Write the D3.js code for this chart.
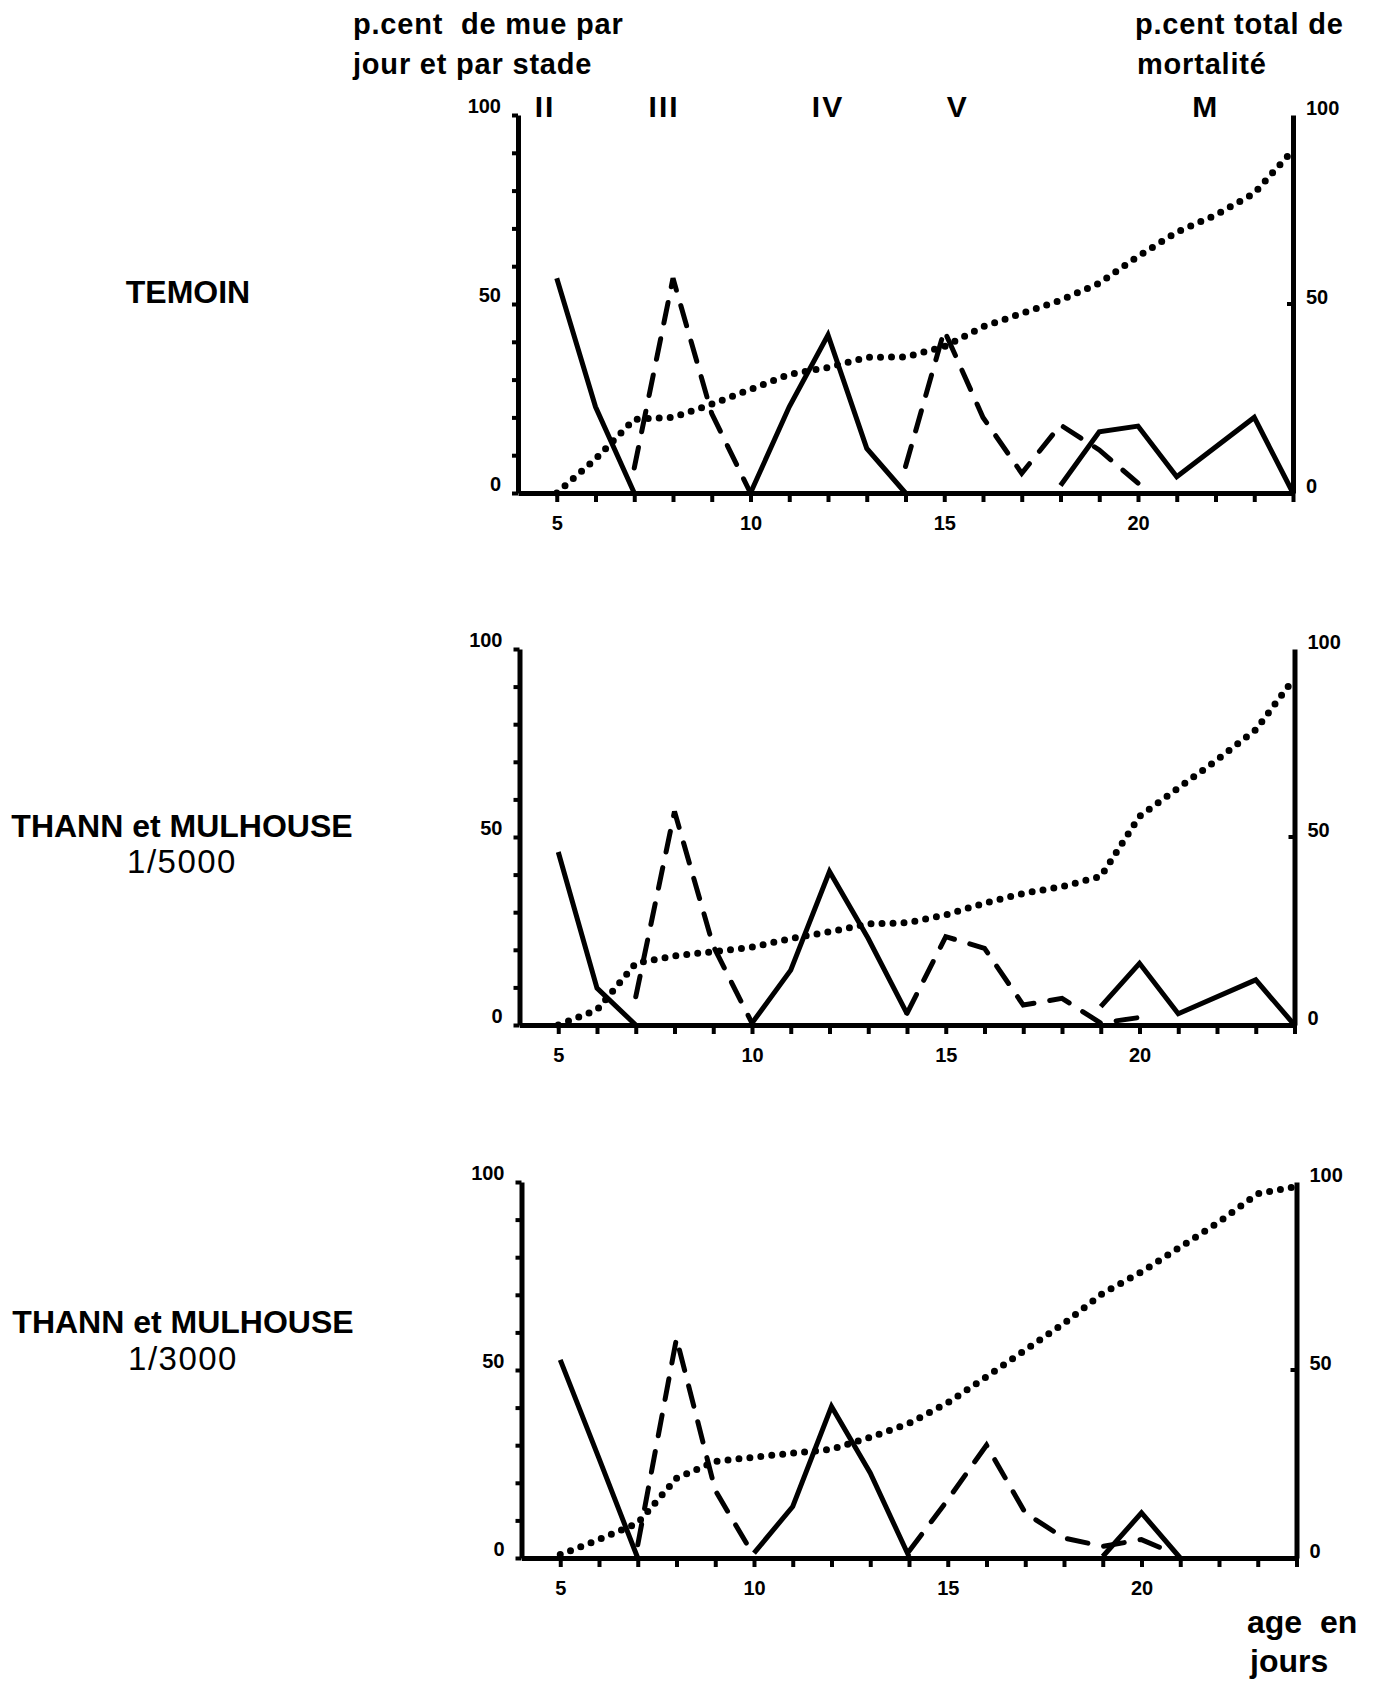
<!DOCTYPE html>
<html>
<head>
<meta charset="utf-8">
<script src="https://cdn.jsdelivr.net/npm/d3@7"></script>
<style>
  body { margin: 0; background: #fff; }
  svg text { white-space: pre; }
</style>
</head>
<body>
<div id="chart"></div>
<script>

// ---- data ----
// days for the cumulative mortality (dotted, right axis)
var mortDays = [5, 6, 7, 8, 9, 10, 11, 12, 13, 14, 15, 16, 17, 18, 19, 20, 21, 22, 23, 24];
var mortTemoin = [0, 9, 19.5, 20, 23.5, 27.4, 31.4, 33.2, 35.9, 36, 38.7, 44, 47.5, 51, 55.5, 62.6, 69, 73.5, 79.3, 90.7];
var mort5000 = [0, 4, 16.4, 18.4, 19.5, 20.7, 23, 24.8, 26.9, 27.2, 29.3, 32.4, 35, 36.8, 39.5, 55.5, 63, 70.5, 78.5, 92.3];
var mort3000 = [0.9, 4.9, 9.3, 21.2, 25.7, 26.8, 27.9, 28.9, 32.1, 35.8, 41.3, 48.2, 55.3, 62.4, 70.4, 76.1, 82.7, 89.4, 96.9, 98.8];

// moult per day and per stage (left axis), [day, percent]
var temoinII  = [[5, 56.8], [6, 22.8], [7, 0]];
var temoinIII = [[7, 6.6], [8, 56.8], [9, 21], [10, 0]];
var temoinIV  = [[10, 0], [11, 22.8], [12, 41.8], [13, 11.8], [14, 0]];
var temoinV   = [[14, 7], [15, 43], [16, 20], [17, 5.2], [18, 18], [19, 11.4], [20, 2.6]];
var temoinM   = [[18, 2], [19, 16.2], [20, 17.7], [21, 4.3], [23, 20], [24, 0]];

var t5000II  = [[5, 46], [6, 9.8], [7, 0]];
var t5000III = [[7, 7.5], [8, 56.8], [9, 21], [10, 0.5]];
var t5000IV  = [[10, 0.5], [11, 14.6], [12, 40.8], [13, 23], [14, 3]];
var t5000V   = [[14, 3.1], [15, 23.5], [16, 20.4], [17, 5.3], [18, 7.1], [19, 0.5], [20, 2]];
var t5000M   = [[19, 4.9], [20, 16.4], [21, 3], [23, 12], [24, 0]];

var t3000II  = [[5, 52.7], [6, 26.5], [7, 0]];
var t3000III = [[7, 3.5], [8, 58.4], [9, 18], [10, 0.5]];
var t3000IV  = [[10, 1.3], [11, 13.7], [12, 40.3], [13, 22.6], [14, 0.4]];
var t3000V   = [[14, 1.8], [15, 15.5], [16, 30], [17, 12], [18, 5.3], [19, 3.1], [20, 4.9], [20.5, 2.7]];
var t3000M   = [[19, 0.4], [20, 12], [21, 0]];

// stage names written above the first graph, and the day they sit over
var stageNames = ["II", "III", "IV", "V", "M"];
var stageDays = [4.7, 7.77, 12.0, 15.35, 21.75];

var xTicks = [5, 10, 15, 20];
var yTicks = [0, 50, 100];

// ---- layout ----
var width = 1379, height = 1686;
var font = "'Liberation Sans', Arial, Helvetica, sans-serif";

var panels = [
  { top: 115, bottom: 493, dx: 0, mort: mortTemoin,
    solid: [temoinII, temoinIV, temoinM], dashed: [temoinIII, temoinV],
    title: ["TEMOIN"], titleX: 188, titleY: [303] },
  { top: 649, bottom: 1025, dx: 1.5, mort: mort5000,
    solid: [t5000II, t5000IV, t5000M], dashed: [t5000III, t5000V],
    title: ["THANN et MULHOUSE", "1/5000"], titleX: 182, titleY: [837, 873] },
  { top: 1182, bottom: 1558, dx: 3.5, mort: mort3000,
    solid: [t3000II, t3000IV, t3000M], dashed: [t3000III, t3000V],
    title: ["THANN et MULHOUSE", "1/3000"], titleX: 183, titleY: [1333, 1370] }
];

var svg = d3.select("#chart")
  .append("svg")
  .attr("width", width)
  .attr("height", height)
  .style("background", "#fff");

panels.forEach(function(p, i) {

  var x = d3.scaleLinear().domain([4, 24]).range([518 + p.dx, 1293 + p.dx]);
  var y = d3.scaleLinear().domain([0, 100]).range([p.bottom, p.top]);
  var yR = d3.scaleLinear().domain([0, 100]).range([p.bottom, p.top]);

  var g = svg.append("g");

  // x axis with a small tick every day
  var xAxis = g.append("g")
    .attr("transform", "translate(0," + p.bottom + ")")
    .call(d3.axisBottom(x).tickValues(d3.range(5, 25)).tickSize(9).tickSizeOuter(0).tickPadding(14)
      .tickFormat(function(d) { return xTicks.indexOf(d) >= 0 ? d : ""; }));

  // left axis, tick every 10
  var yAxis = g.append("g")
    .attr("transform", "translate(" + x(4) + ",0)")
    .call(d3.axisLeft(y).tickValues(d3.range(0, 101, 10)).tickSize(6).tickSizeOuter(0).tickPadding(11)
      .tickFormat(function(d) { return yTicks.indexOf(d) >= 0 ? d : ""; }));

  // right axis (mortality)
  var rAxis = g.append("g")
    .attr("transform", "translate(" + x(24) + ",0)")
    .call(d3.axisRight(yR).tickValues(yTicks).tickSize(0).tickSizeOuter(0).tickPadding(13));
  rAxis.append("line")
    .attr("x1", -6).attr("x2", 0)
    .attr("y1", yR(50)).attr("y2", yR(50));

  [xAxis, yAxis, rAxis].forEach(function(a) {
    a.select(".domain").attr("stroke", "#000").attr("stroke-width", 5);
    a.selectAll("line").attr("stroke", "#000").attr("stroke-width", 4);
    a.selectAll("text")
      .attr("font-family", font)
      .attr("font-weight", "bold")
      .attr("font-size", 20)
      .attr("fill", "#000");
  });
  yAxis.selectAll("text").attr("dy", "-0.15em");
  rAxis.selectAll("text").attr("dy", "-0.05em");
  xAxis.selectAll("text").attr("dy", "0.71em");

  var line = d3.line()
    .x(function(d) { return x(d[0]); })
    .y(function(d) { return y(d[1]); });

  // cumulative mortality, dotted
  var mortPts = mortDays.map(function(d, k) { return [d, p.mort[k]]; });
  g.append("path")
    .datum(mortPts)
    .attr("d", d3.line().x(function(d) { return x(d[0]); }).y(function(d) { return yR(d[1]); }))
    .attr("fill", "none")
    .attr("stroke", "#000")
    .attr("stroke-width", 7)
    .attr("stroke-linecap", "round")
    .attr("stroke-dasharray", "0 11");

  // moult, solid stages
  g.selectAll(".solid")
    .data(p.solid)
    .enter()
    .append("path")
      .attr("d", line)
      .attr("fill", "none")
      .attr("stroke", "#000")
      .attr("stroke-width", 5)
      .attr("stroke-linejoin", "miter");

  // moult, dashed stages
  g.selectAll(".dashed")
    .data(p.dashed)
    .enter()
    .append("path")
      .attr("d", line)
      .attr("fill", "none")
      .attr("stroke", "#000")
      .attr("stroke-width", 5)
      .attr("stroke-linecap", "round")
      .attr("stroke-dasharray", "21 16");

  // label on the left
  p.title.forEach(function(t, k) {
    svg.append("text")
      .attr("x", p.titleX)
      .attr("y", p.titleY[k])
      .attr("text-anchor", "middle")
      .attr("font-family", font)
      .attr("font-weight", k === 0 ? "bold" : "normal")
      .attr("font-size", k === 0 ? 32 : 33)
      .attr("letter-spacing", k === 0 ? 0 : 1.5)
      .text(t);
  });

  // stage names above the first graph
  if (i === 0) {
    g.selectAll(".stage")
      .data(stageNames)
      .enter()
      .append("text")
        .attr("x", function(d, k) { return x(stageDays[k]); })
        .attr("y", 117)
        .attr("text-anchor", "middle")
        .attr("font-family", font)
        .attr("font-weight", "bold")
        .attr("font-size", 30)
        .attr("letter-spacing", 2)
        .text(function(d) { return d; });
  }
});

// headers
var head = [
  { t: "p.cent  de mue par", x: 353, y: 34 },
  { t: "jour et par stade", x: 353, y: 74 },
  { t: "p.cent total de", x: 1135, y: 34 },
  { t: "mortalité", x: 1137, y: 74 }
];
svg.selectAll(".head")
  .data(head)
  .enter()
  .append("text")
    .attr("x", function(d) { return d.x; })
    .attr("y", function(d) { return d.y; })
    .attr("font-family", font)
    .attr("font-weight", "bold")
    .attr("font-size", 29)
    .attr("letter-spacing", 0.8)
    .text(function(d) { return d.t; });

// x axis title
svg.append("text").attr("x", 1247).attr("y", 1633)
  .attr("font-family", font).attr("font-weight", "bold").attr("font-size", 32)
  .text("age  en");
svg.append("text").attr("x", 1250).attr("y", 1672)
  .attr("font-family", font).attr("font-weight", "bold").attr("font-size", 32)
  .text("jours");

</script>
</body>
</html>
